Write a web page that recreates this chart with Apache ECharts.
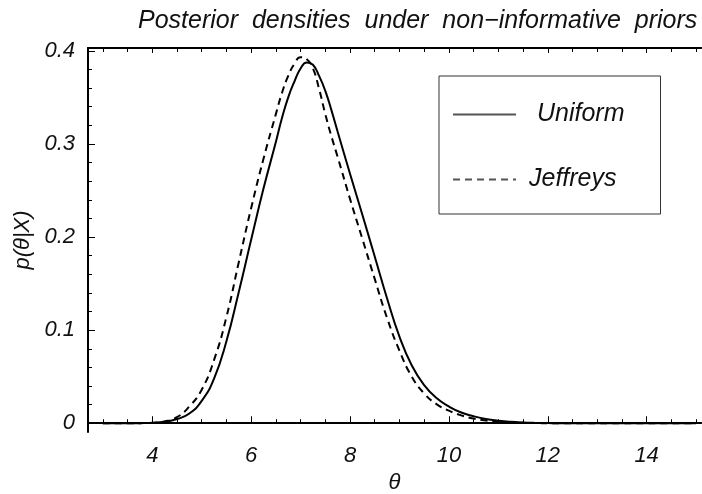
<!DOCTYPE html>
<html>
<head>
<meta charset="utf-8">
<script src="https://cdn.jsdelivr.net/npm/echarts@6/dist/echarts.min.js"></script>
<style>
  html, body { margin: 0; padding: 0; background: #fff; }
  #chart { width: 702px; height: 494px; }
</style>
</head>
<body>
<div id="chart"></div>
<script>
// theta grid (finer around the peak)
const theta = [
  3, 3.25, 3.5, 3.75, 4, 4.25, 4.5, 4.75, 5, 5.25, 5.5, 5.75, 6, 6.25, 6.5,
  6.625, 6.75, 6.875, 7, 7.125, 7.25, 7.375, 7.5, 7.625, 7.75,
  8, 8.25, 8.5, 8.75, 9, 9.25, 9.5, 9.75, 10, 10.25, 10.5, 10.75, 11, 11.25, 11.5, 11.75,
  12, 12.25, 12.5, 12.75, 13, 13.25, 13.5, 13.75, 14, 14.25, 14.5, 14.75, 15
];

// posterior under uniform prior (solid)
const uniform = [
  0, 0, 0, 0.0001, 0.0004, 0.0015, 0.0045, 0.0104, 0.024, 0.048, 0.088, 0.141, 0.197, 0.252, 0.302,
  0.328, 0.350, 0.367, 0.381, 0.3875, 0.385, 0.373, 0.357, 0.336, 0.313,
  0.268, 0.224, 0.179, 0.134, 0.093, 0.062, 0.041, 0.027, 0.018, 0.0115, 0.0075, 0.0045, 0.0027, 0.0015, 0.0008, 0.0004,
  0.0002, 0, 0, 0, 0, 0, 0, 0, 0, 0, 0, 0, 0
];

// posterior under Jeffreys prior (dashed)
const jeffreys = [
  0, 0, 0, 0.0001, 0.0006, 0.002, 0.0065, 0.018, 0.036, 0.068, 0.114, 0.173, 0.231, 0.284, 0.332,
  0.355, 0.373, 0.386, 0.393, 0.391, 0.381, 0.359, 0.332, 0.308, 0.286,
  0.241, 0.198, 0.155, 0.113, 0.078, 0.050, 0.032, 0.0205, 0.0135, 0.0085, 0.005, 0.003, 0.0017, 0.0009, 0.0005, 0.0002,
  0.0001, 0, 0, 0, 0, 0, 0, 0, 0, 0, 0, 0, 0
];

const xMajorTicks = [4, 6, 8, 10, 12, 14];
const xMinorTicks = [3, 3.5, 4.5, 5, 5.5, 6.5, 7, 7.5, 8.5, 9, 9.5, 10.5, 11, 11.5, 12.5, 13, 13.5, 14.5, 15];
const yMajorTicks = [0, 0.1, 0.2, 0.3, 0.4];
const yMinorTicks = [
  0.02, 0.04, 0.06, 0.08, 0.12, 0.14, 0.16, 0.18, 0.22, 0.24, 0.26, 0.28,
  0.32, 0.34, 0.36, 0.38
];

const FONT = '"Liberation Sans", Arial, sans-serif';
const INK = '#111';

const chart = echarts.init(document.getElementById('chart'));

function xAxis(position, ticks, len, main) {
  return {
    type: 'value',
    position: position,
    min: 2.7,
    max: 15.1,
    axisLine: { show: main !== null, lineStyle: { color: '#000', width: 2 } },
    axisTick: { show: true, inside: true, length: len, customValues: ticks, lineStyle: { color: '#000', width: 1 } },
    axisLabel: main ? {
      show: true, customValues: ticks, margin: 13,
      fontFamily: FONT, fontStyle: 'italic', fontSize: 22, color: INK
    } : { show: false },
    splitLine: { show: false },
    name: main ? 'θ' : '',
    nameLocation: 'middle',
    nameGap: 40,
    nameTextStyle: { fontFamily: FONT, fontStyle: 'italic', fontSize: 22, color: INK }
  };
}

function yAxis(ticks, len, main) {
  return {
    type: 'value',
    position: 'left',
    min: -0.0094,
    max: 0.403,
    axisLine: { show: !!main, lineStyle: { color: '#000', width: 2 } },
    axisTick: { show: true, inside: true, length: len, customValues: ticks, lineStyle: { color: '#000', width: 1 } },
    axisLabel: main ? {
      show: true, customValues: ticks, margin: 13,
      fontFamily: FONT, fontStyle: 'italic', fontSize: 22, color: INK,
      formatter: v => (v === 0 ? '0' : v.toFixed(1))
    } : { show: false },
    splitLine: { show: false },
    name: main ? 'p(θ|X)' : '',
    nameLocation: 'middle',
    nameGap: 42,
    nameTextStyle: { fontFamily: FONT, fontStyle: 'italic', fontSize: 22, color: INK }
  };
}

chart.setOption({
  animation: false,
  backgroundColor: '#fff',
  title: {
    text: 'Posterior  densities  under  non−informative  priors',
    left: 133,
    top: 4,
    textStyle: { fontFamily: FONT, fontStyle: 'italic', fontWeight: 'normal', fontSize: 25, color: INK }
  },
  grid: { left: 88, right: 1, top: 48, bottom: 62, outerBoundsMode: 'none' },
  legend: {
    orient: 'vertical',
    left: 439,
    top: 76,
    padding: [26, 36, 22, 13],
    itemGap: 40,
    itemWidth: 63,
    itemHeight: 14,
    borderColor: '#333',
    borderWidth: 1,
    data: [
      { name: 'Uniform', textStyle: { padding: [0, 0, 0, 16] } },
      { name: 'Jeffreys', textStyle: { padding: [0, 0, 0, 8] } }
    ],
    itemStyle: { opacity: 0 },
    lineStyle: { color: '#555', width: 2 },
    textStyle: { fontFamily: FONT, fontStyle: 'italic', fontSize: 25, color: INK }
  },
  xAxis: [
    xAxis('bottom', xMajorTicks, 7, true),
    xAxis('bottom', xMinorTicks, 4, false),
    xAxis('top', xMajorTicks, 5, false),
    xAxis('top', xMinorTicks, 4, false)
  ],
  yAxis: [
    yAxis(yMajorTicks, 7, true),
    yAxis(yMinorTicks, 4, false)
  ],
  series: [
    {
      name: 'Uniform',
      type: 'line',
      data: theta.map((t, i) => [t, uniform[i]]),
      smooth: true,
      symbol: 'none',
      itemStyle: { color: '#000' },
      lineStyle: { color: '#000', width: 2 }
    },
    {
      name: 'Jeffreys',
      type: 'line',
      data: theta.map((t, i) => [t, jeffreys[i]]),
      smooth: true,
      symbol: 'none',
      itemStyle: { color: '#000' },
      lineStyle: { color: '#000', width: 2, type: [7, 5] }
    }
  ]
});
</script>
</body>
</html>
